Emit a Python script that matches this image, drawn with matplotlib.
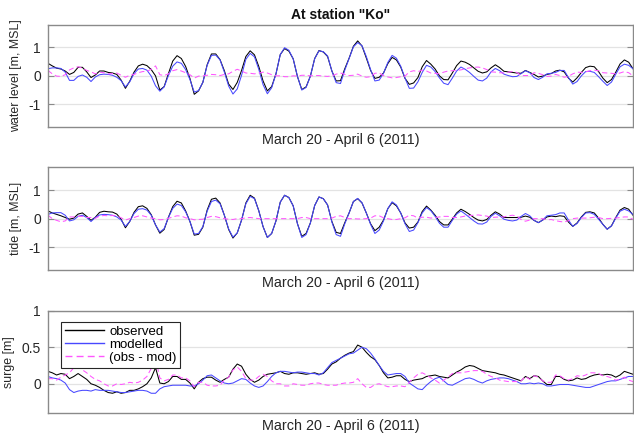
import numpy as np
import matplotlib
matplotlib.use('Agg')
import matplotlib.pyplot as plt

plt.rcParams.update({"font.family": ["Liberation Sans", "DejaVu Sans"],
                     "font.size": 9.5})

# 3-hourly samples, March 20 - April 6 (2011)
hours = np.arange(137) * 3

tide_obs = [
    0.27, 0.20, 0.15, 0.10, 0.04, -0.02, 0.02, 0.16, 0.20, 0.08,
    -0.06, 0.05, 0.22, 0.26, 0.24, 0.23, 0.16, -0.02, -0.32, -0.10,
    0.22, 0.42, 0.45, 0.36, 0.14, -0.22, -0.51, -0.38, 0.05, 0.42,
    0.61, 0.55, 0.27, -0.10, -0.58, -0.55, -0.30, 0.30, 0.68, 0.72,
    0.55, 0.12, -0.38, -0.68, -0.50, -0.05, 0.55, 0.82, 0.72, 0.28,
    -0.28, -0.66, -0.52, -0.08, 0.58, 0.82, 0.74, 0.45, -0.18, -0.62,
    -0.52, -0.15, 0.46, 0.76, 0.70, 0.48, -0.10, -0.48, -0.52, -0.14,
    0.20, 0.60, 0.70, 0.55, 0.20, -0.18, -0.42, -0.30, -0.05, 0.35,
    0.56, 0.45, 0.20, -0.15, -0.33, -0.30, -0.12, 0.25, 0.44, 0.30,
    0.12, -0.10, -0.22, -0.22, -0.02, 0.20, 0.33, 0.25, 0.15, 0.04,
    -0.05, -0.08, -0.03, 0.12, 0.24, 0.16, 0.04, 0.04, 0.04, 0.04,
    0.05, 0.09, 0.05, -0.06, -0.14, -0.05, 0.06, 0.09, 0.07, 0.10,
    0.08, -0.12, -0.27, -0.15, 0.06, 0.22, 0.24, 0.20, 0.02, -0.20,
    -0.37, -0.25, 0.04, 0.30, 0.39, 0.33, 0.12,
]
tide_mod = [
    0.15, 0.20, 0.21, 0.21, 0.12, -0.08, -0.04, 0.08, 0.12, 0.04,
    -0.10, 0.04, 0.13, 0.15, 0.14, 0.12, 0.06, -0.05, -0.27, -0.10,
    0.18, 0.33, 0.35, 0.30, 0.12, -0.22, -0.47, -0.35, 0.04, 0.36,
    0.51, 0.46, 0.24, -0.10, -0.54, -0.52, -0.28, 0.26, 0.60, 0.65,
    0.52, 0.12, -0.36, -0.65, -0.50, -0.05, 0.52, 0.78, 0.70, 0.28,
    -0.28, -0.66, -0.52, -0.08, 0.58, 0.82, 0.74, 0.45, -0.18, -0.66,
    -0.56, -0.15, 0.46, 0.76, 0.70, 0.48, -0.12, -0.56, -0.62, -0.18,
    0.20, 0.60, 0.71, 0.56, 0.20, -0.20, -0.52, -0.40, -0.08, 0.35,
    0.59, 0.48, 0.20, -0.18, -0.45, -0.40, -0.14, 0.20, 0.39, 0.28,
    0.08, -0.16, -0.30, -0.30, -0.06, 0.16, 0.27, 0.16, 0.04, -0.08,
    -0.18, -0.19, -0.12, 0.08, 0.19, 0.10, -0.02, -0.06, -0.08, -0.05,
    0.08, 0.18, 0.10, -0.06, -0.14, -0.05, 0.10, 0.12, 0.14, 0.20,
    0.20, -0.05, -0.27, -0.17, 0.04, 0.20, 0.21, 0.15, -0.02, -0.20,
    -0.37, -0.26, 0.02, 0.26, 0.33, 0.27, 0.15,
]
surge_obs = [
    0.17, 0.15, 0.12, 0.14, 0.13, 0.07, 0.10, 0.14, 0.10, 0.06,
    0.00, -0.02, -0.05, -0.09, -0.12, -0.13, -0.11, -0.13, -0.12, -0.09,
    -0.09, -0.07, -0.04, 0.00, 0.08, 0.22, 0.01, 0.00, 0.03, 0.10,
    0.10, 0.06, 0.06, 0.01, -0.07, 0.02, 0.07, 0.09, 0.09, 0.05,
    0.02, 0.06, 0.09, 0.20, 0.27, 0.24, 0.13, 0.06, 0.02, 0.05,
    0.10, 0.13, 0.14, 0.15, 0.17, 0.14, 0.13, 0.15, 0.15, 0.14,
    0.13, 0.14, 0.15, 0.13, 0.14, 0.20, 0.27, 0.30, 0.35, 0.39,
    0.42, 0.44, 0.53, 0.50, 0.43, 0.37, 0.33, 0.25, 0.15, 0.08,
    0.09, 0.11, 0.11, 0.06, 0.03, 0.05, 0.06, 0.07, 0.10, 0.11,
    0.12, 0.10, 0.09, 0.08, 0.12, 0.16, 0.19, 0.23, 0.25, 0.24,
    0.21, 0.18, 0.17, 0.16, 0.15, 0.13, 0.12, 0.10, 0.08, 0.06,
    0.04, 0.10, 0.07, 0.11, 0.10, 0.04, -0.01, -0.01, 0.10, 0.10,
    0.06, 0.04, 0.05, 0.08, 0.06, 0.07, 0.10, 0.12, 0.13, 0.12,
    0.13, 0.12, 0.09, 0.12, 0.17, 0.15, 0.13,
]
surge_mod = [
    0.10, 0.08, 0.07, 0.05, 0.01, -0.08, -0.12, -0.10, -0.09, -0.09,
    -0.10, -0.08, -0.09, -0.09, -0.09, -0.10, -0.11, -0.12, -0.12, -0.11,
    -0.10, -0.09, -0.09, -0.10, -0.13, -0.13, -0.07, -0.04, -0.03, -0.02,
    -0.02, -0.02, -0.02, -0.03, -0.03, 0.00, 0.05, 0.11, 0.12, 0.08,
    0.04, 0.01, 0.00, 0.01, 0.04, 0.07, 0.06, 0.01, -0.03, -0.05,
    -0.03, 0.03, 0.10, 0.15, 0.17, 0.17, 0.16, 0.15, 0.16, 0.16,
    0.15, 0.14, 0.14, 0.12, 0.15, 0.22, 0.29, 0.32, 0.35, 0.38,
    0.41, 0.42, 0.46, 0.50, 0.48, 0.42, 0.34, 0.25, 0.17, 0.12,
    0.13, 0.14, 0.14, 0.10, 0.01, -0.03, -0.07, -0.08, -0.02, 0.03,
    0.07, 0.09, 0.04, -0.01, -0.02, 0.01, 0.04, 0.07, 0.08, 0.06,
    0.03, 0.01, 0.04, 0.06, 0.07, 0.08, 0.08, 0.07, 0.05, 0.03,
    0.00, 0.00, 0.01, 0.00, 0.01, 0.00, -0.03, -0.03, -0.02, -0.01,
    -0.01, -0.01, -0.02, -0.03, -0.04, -0.05, -0.05, -0.03, -0.01, 0.01,
    0.03, 0.04, 0.04, 0.06, 0.08, 0.10, 0.10,
]

tide_obs = np.array(tide_obs)
tide_mod = np.array(tide_mod)
surge_obs = np.array(surge_obs)
surge_mod = np.array(surge_mod)
# water level = tide + surge
wl_obs = tide_obs + surge_obs
wl_mod = tide_mod + surge_mod

panels = [
    (wl_obs, wl_mod, "water level [m, MSL]", (-1.8, 1.8), [-1, 0, 1], ["-1", "0", "1"]),
    (tide_obs, tide_mod, "tide [m, MSL]", (-1.8, 1.8), [-1, 0, 1], ["-1", "0", "1"]),
    (surge_obs, surge_mod, "surge [m]", (-0.4, 1.0), [0, 0.5, 1], ["0", "0.5", "1"]),
]
XLABEL = "March 20 - April 6 (2011)"

fig = plt.figure(figsize=(6.34, 4.34), dpi=100)
positions = [[0.0757, 0.7074, 0.9227, 0.2357],
             [0.0757, 0.3779, 0.9227, 0.2366],
             [0.0757, 0.0484, 0.9227, 0.2357]]

for k, (obs, mod, ylab, ylim, yt, ytl) in enumerate(panels):
    ax = fig.add_axes(positions[k])
    ax.plot(hours, obs, color="k", lw=0.75, label="observed")
    ax.plot(hours, mod, color="#4848ff", lw=0.75, label="modelled")
    ax.plot(hours, obs - mod, color="#ff55ff", lw=0.75, ls=(0, (5, 3)),
            label="(obs - mod)")
    ax.set_xlim(hours[0], hours[-1])
    ax.set_ylim(*ylim)
    ax.set_yticks(yt)
    ax.set_yticklabels(ytl)
    ax.set_xticks([])
    ax.grid(axis="y", color="#e3e3e3", lw=0.9)
    ax.set_axisbelow(True)
    for s in ax.spines.values():
        s.set_color("#8a8a8a")
        s.set_linewidth(1.0)
    ax.tick_params(axis="y", direction="in", length=4, width=0.8,
                   color="#8a8a8a", labelcolor="#262626", right=True,
                   pad=5, labelsize=10)
    ax.set_ylabel(ylab, color="#262626", labelpad=5, fontsize=8.9)
    ax.set_xlabel(XLABEL, color="#262626", labelpad=4, fontsize=10.4)
    if k == 0:
        ax.set_title('At station "Ko"', fontweight="bold", fontsize=10,
                     color="#111111", pad=4)
    if k == 2:
        leg = ax.legend(loc="upper left", bbox_to_anchor=(0.022, 0.893),
                        fancybox=False, framealpha=1, edgecolor="#262626",
                        borderaxespad=0, handlelength=3.0, handletextpad=0.35,
                        borderpad=0.3, labelspacing=0.05, fontsize=9.5)
        leg.get_frame().set_linewidth(0.8)
        for h in leg.get_lines():
            h.set_linewidth(1.0)

fig.savefig("out.png", dpi=100)
